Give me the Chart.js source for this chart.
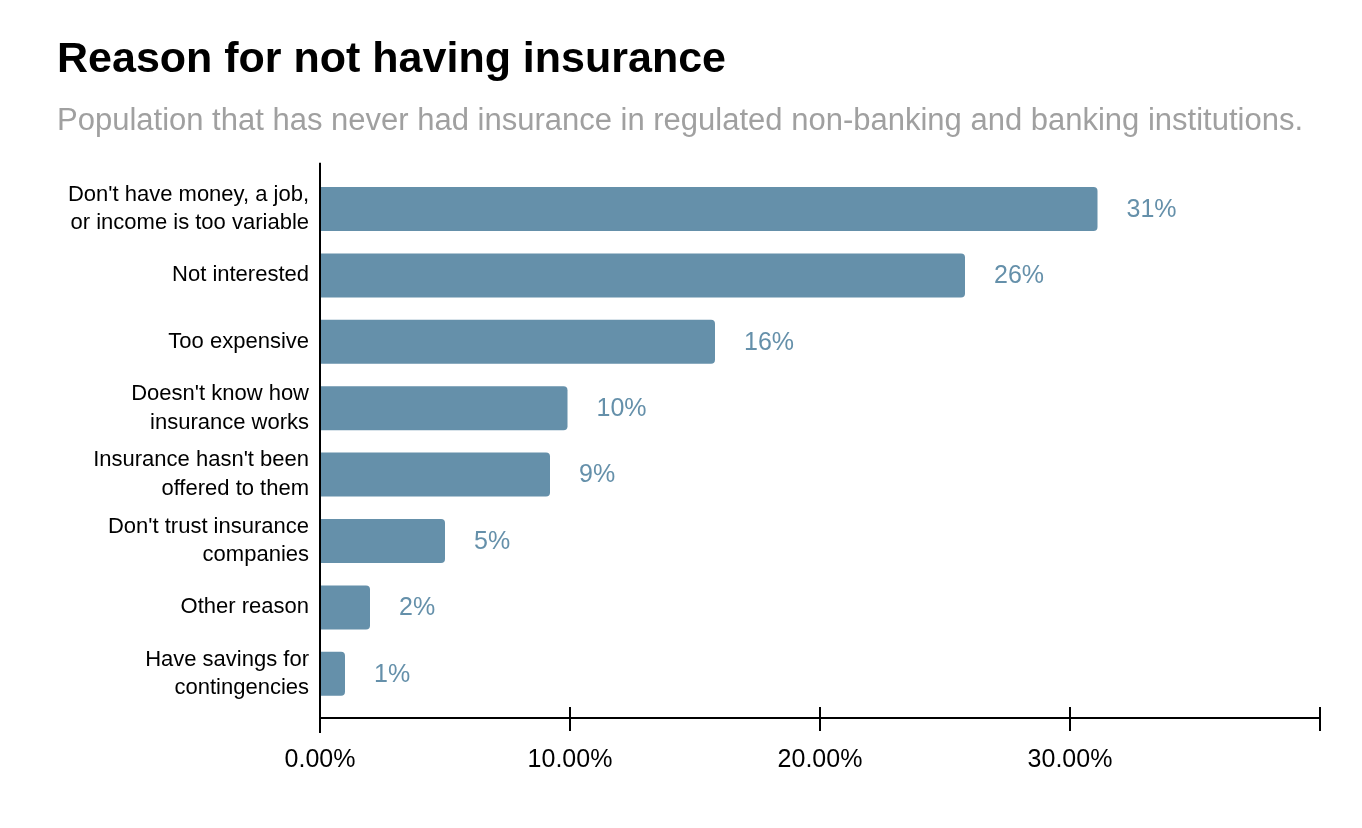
<!DOCTYPE html>
<html>
<head>
<meta charset="utf-8">
<script src="https://cdn.jsdelivr.net/npm/chart.js@4"></script>
<style>
  html, body { margin: 0; padding: 0; background: #fff; }
  #wrap { width: 1362px; height: 828px; }
</style>
</head>
<body>
<div id="wrap"><canvas id="insuranceChart"></canvas></div>
<script>
// Data
const reasons = [
    ["Don't have money, a job,", "or income is too variable"],
    "Not interested",
    "Too expensive",
    ["Doesn't know how", "insurance works"],
    ["Insurance hasn't been", "offered to them"],
    ["Don't trust insurance", "companies"],
    "Other reason",
    ["Have savings for", "contingencies"]
];
const shares = [31.1, 25.8, 15.8, 9.9, 9.2, 5.0, 2.0, 1.0];
const xTicks = [0, 10, 20, 30, 40];

const FONT = "'Liberation Sans', Arial, sans-serif";
const BAR_COLOR = '#6590aa';

// value labels to the right of each bar
const barLabels = {
    id: 'barLabels',
    afterDatasetsDraw(chart) {
        const ctx = chart.ctx;
        const meta = chart.getDatasetMeta(0);
        ctx.save();
        ctx.font = '25px ' + FONT;
        ctx.fillStyle = BAR_COLOR;
        ctx.textAlign = 'left';
        ctx.textBaseline = 'middle';
        meta.data.forEach((bar, i) => {
            ctx.fillText(Math.round(shares[i]) + '%', bar.x + 29, bar.y + 1);
        });
        ctx.restore();
    }
};

// axis lines that run a bit past the plot area, like the original
const axisLines = {
    id: 'axisLines',
    afterDraw(chart) {
        const ctx = chart.ctx;
        const area = chart.chartArea;
        const x0 = chart.scales.x.getPixelForValue(0);
        ctx.save();
        ctx.strokeStyle = '#000';
        ctx.lineWidth = 2;
        ctx.beginPath();
        ctx.moveTo(x0, area.top - 13);
        ctx.lineTo(x0, area.bottom + 26);
        ctx.moveTo(x0, area.bottom + 11);
        ctx.lineTo(area.right, area.bottom + 11);
        ctx.stroke();
        ctx.restore();
    }
};

function createChart() {
    const ctx = document.getElementById('insuranceChart').getContext('2d');
    new Chart(ctx, {
        type: 'bar',
        data: {
            labels: reasons,
            datasets: [{
                data: shares,
                backgroundColor: BAR_COLOR,
                borderRadius: 4,
                borderSkipped: 'start',
                barPercentage: 0.663,
                categoryPercentage: 1
            }]
        },
        options: {
            indexAxis: 'y',
            responsive: true,
            maintainAspectRatio: false,
            animation: false,
            layout: {
                padding: { left: 57, right: 42, top: 0, bottom: 39 }
            },
            scales: {
                x: {
                    min: 0,
                    max: 40,
                    afterBuildTicks(scale) {
                        scale.ticks = xTicks.map(v => ({ value: v }));
                    },
                    border: { display: false },
                    grid: {
                        drawOnChartArea: false,
                        drawTicks: true,
                        tickLength: 24,
                        color: '#000',
                        lineWidth: 2
                    },
                    ticks: {
                        padding: 14,
                        color: '#000',
                        font: { family: FONT, size: 25, lineHeight: 1.2 },
                        maxRotation: 0,
                        callback: (v) => v >= 40 ? '' : v.toFixed(2) + '%'
                    }
                },
                y: {
                    afterFit(scale) {
                        scale.width = 263;
                    },
                    border: { display: false },
                    grid: { display: false, drawTicks: false },
                    ticks: {
                        padding: 11,
                        color: '#000',
                        font: { family: FONT, size: 22, lineHeight: 1.3 }
                    }
                }
            },
            plugins: {
                legend: { display: false },
                tooltip: { enabled: false },
                title: {
                    display: true,
                    text: 'Reason for not having insurance',
                    align: 'start',
                    color: '#000',
                    font: { family: FONT, size: 43, weight: 'bold', lineHeight: 1.2 },
                    padding: { top: 34, bottom: 0 }
                },
                subtitle: {
                    display: true,
                    text: 'Population that has never had insurance in regulated non-banking and banking institutions.',
                    align: 'start',
                    color: '#a0a0a0',
                    font: { family: FONT, size: 31, lineHeight: 1.2 },
                    padding: { top: 17, bottom: 36 }
                }
            }
        },
        plugins: [barLabels, axisLines]
    });
}

window.onload = function() {
    createChart();
};
</script>
</body>
</html>
